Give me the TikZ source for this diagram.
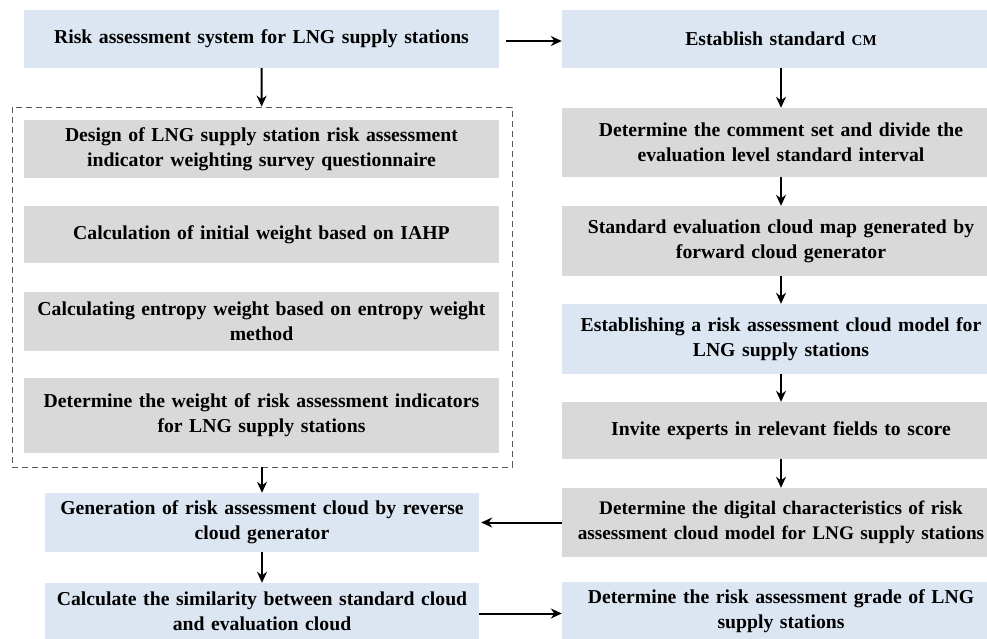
\documentclass[tikz,border=0pt]{standalone}
\usepackage{fontspec}
\setmainfont{Liberation Serif}
\usepackage{xcolor}
\usetikzlibrary{arrows.meta, positioning}
\definecolor{paleblue}{RGB}{220,230,242}
\definecolor{palegray}{RGB}{217,217,217}
\tikzset{
    x=1pt, y=-1pt, % pixel-like coordinates
    every node/.style={font=\fontsize{19.7}{25}\selectfont\bfseries, align=center, inner sep=2pt},
    bluebox/.style={fill=paleblue, text width=#1, minimum height=58pt},
    graybox/.style={fill=palegray, text width=#1, minimum height=58pt},
    flow/.style={line width=2pt, -{Stealth[length=11pt, width=10pt]}},
}

\begin{document}
\begin{tikzpicture}
    \useasboundingbox (0,0) rectangle (987,639);

    % left column
    \node[bluebox=471pt] (sys) at (261.5,39) {Risk assessment system for LNG supply stations};
    \node[draw=black!65, dashed, dash pattern=on 6pt off 4pt, line width=0.8pt,
          minimum width=500pt, minimum height=360pt] (wts) at (262,287) {};
    \node[graybox=471pt] (w1) at (261.5,149) {Design of LNG supply station risk assessment\\ indicator weighting survey questionnaire};
    \node[graybox=471pt, minimum height=57pt] (w2) at (261.5,234.5) {Calculation of initial weight based on IAHP};
    \node[graybox=471pt, minimum height=59pt] (w3) at (261.5,321.5) {Calculating entropy weight based on entropy weight\\ method};
    \node[graybox=471pt, minimum height=75pt] (w4) at (261.5,415.5) {Determine the weight of risk assessment indicators\\ for LNG supply stations};
    \node[bluebox=430pt, minimum height=59pt] (gen) at (262,522.5) {Generation of risk assessment cloud by reverse\\ cloud generator};
    \node[bluebox=430pt, minimum height=57pt] (sim) at (262,611.5) {Calculate the similarity between standard cloud\\ and evaluation cloud};

    % right column
    \node[bluebox=434pt] (est) at (781,39) {Establish standard {\fontsize{15}{25}\selectfont CM}};
    \node[graybox=434pt, minimum height=69pt] (r1) at (781,142.5) {Determine the comment set and divide the\\ evaluation level standard interval};
    \node[graybox=434pt, minimum height=70pt] (r2) at (781,241) {Standard evaluation cloud map generated by\\ forward cloud generator};
    \node[bluebox=434pt, minimum height=70pt] (r3) at (781,339) {Establishing a risk assessment cloud model for\\ LNG supply stations};
    \node[graybox=434pt, minimum height=57pt] (r4) at (781,430.5) {Invite experts in relevant fields to score};
    \node[graybox=434pt, minimum height=69pt, font=\fontsize{19.2}{25}\selectfont\bfseries] (r5) at (781,522.5) {Determine the digital characteristics of risk\\ assessment cloud model for LNG supply stations};
    \node[bluebox=434pt] (r6) at (781,611) {Determine the risk assessment grade of LNG\\ supply stations};

    % connectors
    \draw[flow, shorten <=7pt] ([yshift=-2pt]sys.east) -- ([yshift=-2pt]sys.east -| est.west);
    \draw[flow] (sys) -- (wts);
    \draw[flow] (wts) -- (gen);
    \draw[flow] (gen) -- (sim);
    \draw[flow] (est) -- (r1);
    \draw[flow] (r1) -- (r2);
    \draw[flow] (r2) -- (r3);
    \draw[flow] (r3) -- (r4);
    \draw[flow] (r4) -- (r5);
    \draw[flow, shorten >=2pt] (r5.west) -- (r5.west -| gen.east);
    \draw[flow] ([yshift=-2pt]sim.east) -- ([yshift=-2pt]sim.east -| r6.west);

\end{tikzpicture}
\end{document}
